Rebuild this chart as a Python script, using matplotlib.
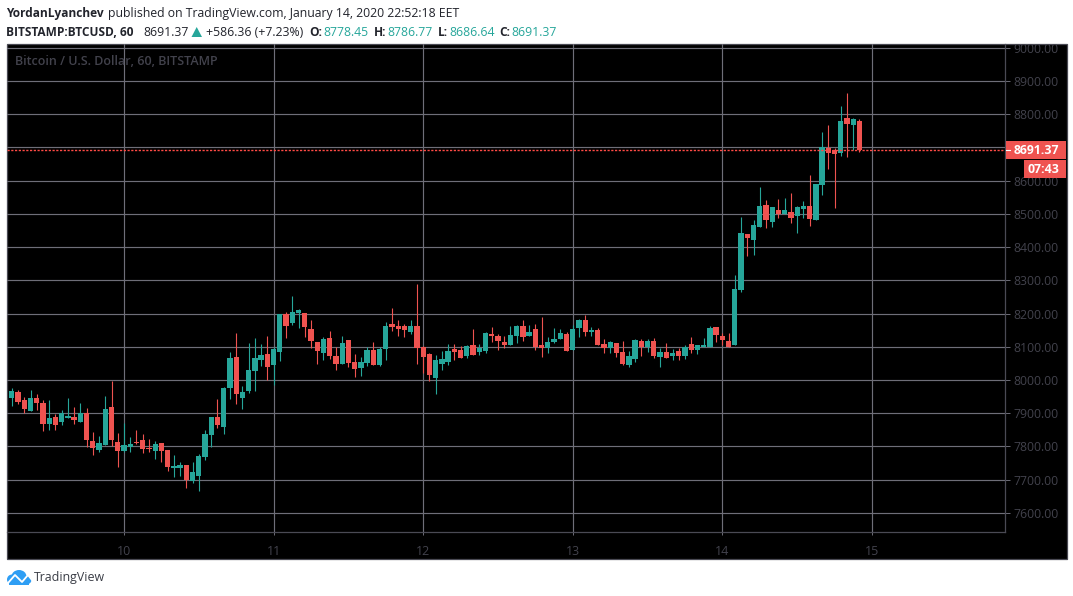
import numpy as np
import matplotlib
matplotlib.use("Agg")
import matplotlib.pyplot as plt
from matplotlib.patches import Rectangle, Polygon, Ellipse
from matplotlib.lines import Line2D

W, H = 1073, 596

# hourly candles, first one is 18h before the "10" tick
first_hour = -18
opens = [7947, 7965, 7941, 7908, 7947, 7932, 7869, 7890, 7875, 7887,
         7890, 7875, 7900, 7815, 7788, 7803, 7920, 7812, 7785, 7799,
         7812, 7818, 7795, 7785, 7809, 7788, 7734, 7734, 7743, 7695,
         7710, 7767, 7833, 7890, 7860, 7975, 8068, 7945, 7966, 8026,
         8059, 8077, 8044, 8083, 8199, 8173, 8203, 8203, 8152, 8113,
         8080, 8125, 8071, 8047, 8119, 8053, 8035, 8050, 8089, 8044,
         8092, 8170, 8161, 8161, 8143, 8164, 8100, 8077, 8005, 8047,
         8053, 8092, 8089, 8071, 8104, 8083, 8086, 8137, 8131, 8113,
         8104, 8131, 8161, 8131, 8152, 8104, 8095, 8113, 8122, 8137,
         8089, 8155, 8182, 8143, 8149, 8107, 8095, 8110, 8083, 8044,
         8062, 8116, 8098, 8116, 8068, 8083, 8071, 8086, 8071, 8107,
         8089, 8100, 8100, 8158, 8131, 8116, 8104, 8272, 8440, 8422,
         8461, 8527, 8476, 8512, 8499, 8506, 8494, 8515, 8524, 8482,
         8587, 8698, 8692, 8683, 8788, 8767, 8778.45]
closes = [7968, 7935, 7914, 7947, 7932, 7869, 7887, 7866, 7900, 7893,
          7881, 7901, 7818, 7794, 7809, 7914, 7818, 7785, 7803, 7806,
          7809, 7791, 7792, 7806, 7785, 7737, 7740, 7743, 7698, 7722,
          7770, 7839, 7890, 7866, 7977, 8065, 7957, 7963, 8029, 8065,
          8074, 8038, 8092, 8199, 8164, 8206, 8212, 8158, 8116, 8086,
          8122, 8071, 8047, 8110, 8050, 8032, 8053, 8089, 8044, 8092,
          8161, 8158, 8152, 8149, 8161, 8095, 8068, 8014, 8059, 8062,
          8086, 8083, 8065, 8101, 8074, 8095, 8140, 8131, 8116, 8104,
          8134, 8164, 8128, 8143, 8099, 8095, 8113, 8122, 8140, 8086,
          8152, 8182, 8143, 8149, 8104, 8095, 8113, 8080, 8047, 8071,
          8119, 8098, 8116, 8071, 8083, 8065, 8080, 8071, 8098, 8089,
          8104, 8104, 8155, 8134, 8119, 8100, 8275, 8443, 8428, 8467,
          8524, 8482, 8521, 8500, 8512, 8488, 8521, 8524, 8485, 8590,
          8700, 8683, 8680, 8779, 8770, 8785, 8691.37]
highs = [7977, 7971, 7950, 7971, 7959, 7941, 7941, 7899, 7911, 7947,
         7920, 7932, 7917, 7845, 7830, 7953, 7998, 7842, 7872, 7827,
         7851, 7836, 7821, 7815, 7809, 7788, 7773, 7752, 7743, 7752,
         7776, 7851, 7890, 7944, 7980, 8083, 8140, 7981, 8110, 8125,
         8107, 8131, 8098, 8199, 8205, 8254, 8215, 8203, 8182, 8113,
         8128, 8146, 8098, 8131, 8119, 8077, 8068, 8098, 8113, 8098,
         8176, 8218, 8182, 8170, 8182, 8288, 8101, 8080, 8074, 8086,
         8107, 8107, 8101, 8104, 8152, 8107, 8143, 8158, 8137, 8131,
         8164, 8167, 8182, 8167, 8170, 8191, 8128, 8155, 8152, 8143,
         8167, 8185, 8197, 8158, 8155, 8122, 8116, 8110, 8116, 8086,
         8122, 8122, 8122, 8125, 8095, 8110, 8092, 8095, 8104, 8128,
         8104, 8125, 8161, 8158, 8140, 8140, 8317, 8491, 8440, 8482,
         8581, 8542, 8521, 8545, 8548, 8563, 8524, 8539, 8617, 8590,
         8746, 8767, 8698, 8824, 8863, 8788, 8786.77]
lows = [7923, 7929, 7901, 7908, 7911, 7848, 7851, 7851, 7866, 7887,
        7869, 7875, 7799, 7773, 7782, 7803, 7800, 7737, 7782, 7782,
        7806, 7779, 7782, 7761, 7752, 7725, 7707, 7710, 7674, 7689,
        7665, 7758, 7799, 7857, 7839, 7942, 7927, 7912, 7960, 7966,
        8041, 7999, 7984, 8056, 8125, 8167, 8155, 8128, 8095, 8047,
        8059, 8062, 8029, 8047, 8038, 8008, 8011, 8041, 8044, 8041,
        8059, 8146, 8131, 8128, 8137, 8047, 8020, 7996, 7957, 8029,
        8044, 8059, 8065, 8065, 8074, 8074, 8080, 8113, 8089, 8095,
        8104, 8110, 8116, 8131, 8089, 8068, 8080, 8110, 8122, 8086,
        8089, 8128, 8131, 8131, 8104, 8080, 8080, 8068, 8044, 8038,
        8053, 8071, 8083, 8065, 8038, 8065, 8059, 8059, 8062, 8080,
        8077, 8100, 8100, 8113, 8104, 8100, 8104, 8266, 8374, 8377,
        8461, 8458, 8461, 8488, 8499, 8473, 8443, 8488, 8464, 8482,
        8557, 8635, 8518, 8674, 8671, 8692, 8686.64]

price_ticks = [7600, 7700, 7800, 7900, 8000, 8100, 8200, 8300, 8400, 8500,
               8600, 8700, 8800, 8900, 9000]
day_labels = ["10", "11", "12", "13", "14", "15"]
last_price = 8691.37

GREEN = "#26a69a"
RED = "#ef5350"
GRID = "#6e6e78"
DIM = "#42424c"
BORDER = "#4a4a54"
DARK = "#22242c"
FONT = "Open Sans"


def fx(x):
    return x / W


def fy(y):
    return 1 - y / H


def header(x, y, s, **kw):
    kw.setdefault("color", DARK)
    kw.setdefault("fontsize", 8.8)
    fig.text(fx(x), fy(y), s, family=FONT, va="center", ha="left", **kw)


fig = plt.figure(figsize=(W / 100, H / 100), dpi=100, facecolor="white")

# black panel with the two axis strips
fig.add_artist(Rectangle((fx(6.5), fy(559)), (1066.5 - 6.5) / W, (559 - 43.5) / H,
                         transform=fig.transFigure, facecolor="black",
                         edgecolor=BORDER, linewidth=0.9, zorder=-1))

ax = fig.add_axes([fx(6.5), fy(531.5), (1005.5 - 6.5) / W, (531.5 - 43.5) / H])
ax.set_facecolor("black")
ax.patch.set_alpha(0)

# px = 124 + 6.233 * hour, price: 100$ = 33.23px, 8000 at y=380
ax.set_xlim((6.5 - 124) / 6.233, (1005.5 - 124) / 6.233)
ax.set_ylim(8000 - (531.5 - 380) / 0.3323, 8000 + (380 - 43.5) / 0.3323)

hours = np.arange(first_hour, first_hour + len(opens))
opens_a = np.array(opens)
closes_a = np.array(closes)
colors = [GREEN if c >= o else RED for o, c in zip(opens, closes)]

ax.set_axisbelow(True)
ax.set_yticks(price_ticks)
ax.set_yticklabels([f"{p:.2f}" for p in price_ticks], family=FONT, fontsize=8.8, color=DIM)
ax.set_xticks(np.arange(len(day_labels)) * 24)
ax.set_xticklabels(day_labels, family=FONT, fontsize=9, color=DIM)
ax.yaxis.tick_right()
ax.tick_params(axis="y", length=3.5, width=0.7, color=GRID, pad=2, zorder=1)
ax.tick_params(axis="x", length=2.5, width=0.7, color=GRID, pad=7)
ax.grid(True, color=GRID, linewidth=0.85)
for name, spine in ax.spines.items():
    spine.set_visible(name in ("right", "bottom"))
    spine.set_color(BORDER)
    spine.set_linewidth(0.9)

ax.text(0.0085, 0.963, "Bitcoin / U.S. Dollar, 60, BITSTAMP", transform=ax.transAxes,
        family=FONT, fontsize=9, fontweight="semibold", color=DIM, va="center", ha="left", zorder=2)

ax.vlines(hours, lows, highs, colors=colors, linewidth=0.8, zorder=3)
ax.bar(hours, closes_a - opens_a, bottom=opens_a, width=0.85, color=colors, linewidth=0, zorder=4)

ax.axhline(last_price, color="#ff4a45", linewidth=1.0, linestyle=(0, (1.6, 1.1)), zorder=5)

# last price + countdown boxes
fig.add_artist(Rectangle((fx(1006), fy(159)), 60 / W, 18 / H, transform=fig.transFigure,
                         facecolor=RED, edgecolor="none"))
fig.add_artist(Rectangle((fx(1024), fy(178)), 42 / W, 18 / H, transform=fig.transFigure,
                         facecolor=RED, edgecolor="none"))
fig.add_artist(Line2D([fx(1006), fx(1010)], [fy(150), fy(150)], color="white", linewidth=0.8))
fig.text(fx(1014), fy(150), "8691.37", family=FONT, fontsize=8.8, fontweight="bold",
         color="white", va="center", ha="left")
fig.text(fx(1027.5), fy(169), "07:43", family=FONT, fontsize=8.8, fontweight="bold",
         color="white", va="center", ha="left")

# header lines
header(6.5, 13, "YordanLyanchev", fontweight="bold", fontsize=8.6)
header(108.5, 13, "published on TradingView.com, January 14, 2020 22:52:18 EET")
header(6.5, 32, "BITSTAMP:BTCUSD, 60", fontweight="bold", fontsize=8.6)
header(143.7, 32, "8691.37")
fig.add_artist(Polygon([(fx(191.5), fy(37)), (fx(202), fy(37)), (fx(196.7), fy(27))],
                       transform=fig.transFigure, facecolor=GREEN, edgecolor="none"))
header(206, 32, "+586.36 (+7.23%)")
header(309.6, 32, "O:", fontweight="bold", fontsize=8.6)
header(323.8, 32, "8778.45", color=GREEN)
header(373.6, 32, "H:", fontweight="bold", fontsize=8.6)
header(387.7, 32, "8786.77", color=GREEN)
header(438, 32, "L:", fontweight="bold", fontsize=8.6)
header(449, 32, "8686.64", color=GREEN)
header(499, 32, "C:", fontweight="bold", fontsize=8.6)
header(511.5, 32, "8691.37", color=GREEN)

# TradingView logo and name
LOGO = "#2e9ef4"
for cx, cy, ew, eh in [(12, 579.5, 10, 10), (19, 576.5, 15, 13), (26, 580, 11, 9)]:
    fig.add_artist(Ellipse((fx(cx), fy(cy)), ew / W, eh / H, transform=fig.transFigure,
                           facecolor=LOGO, edgecolor="none"))
fig.add_artist(Rectangle((fx(9), fy(585)), 20 / W, 5 / H, transform=fig.transFigure,
                         facecolor=LOGO, edgecolor="none"))
fig.add_artist(Line2D([fx(8), fx(15), fx(22), fx(28), fx(32)],
                      [fy(583), fy(575), fy(582), fy(575), fy(580)],
                      color="white", linewidth=1.3))
header(34, 577.5, "TradingView", fontsize=8.9, color="#3a3d46")

fig.savefig("out.png", dpi=100)
plt.close(fig)
